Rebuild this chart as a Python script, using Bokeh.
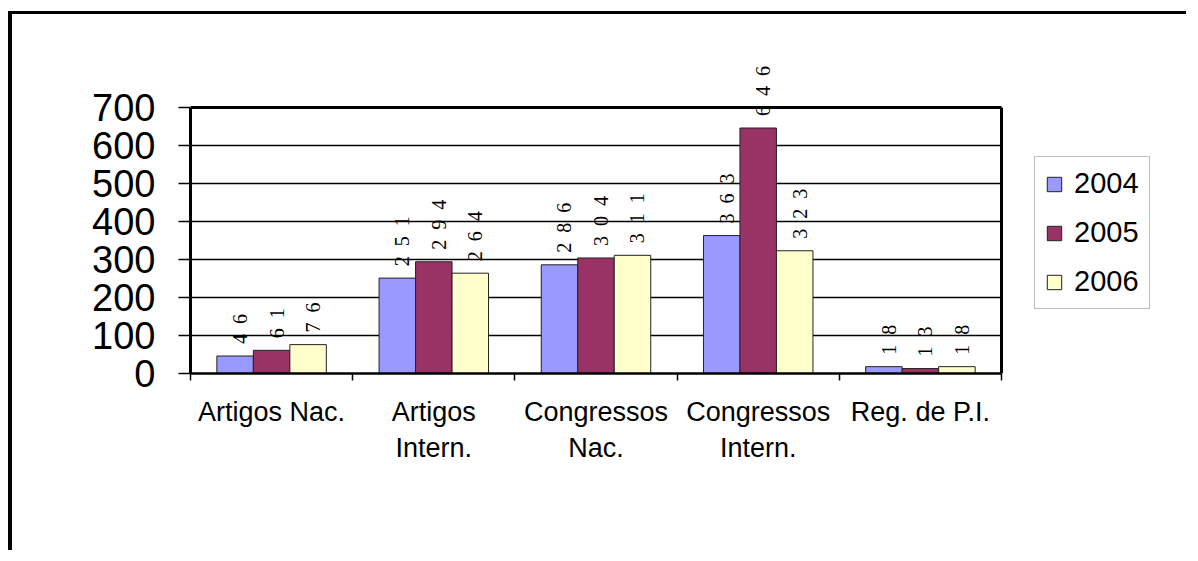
import math
from bokeh.plotting import figure
from bokeh.models import (ColumnDataSource, Range1d, FixedTicker, LabelSet,
                          Legend, LegendItem)
from bokeh.embed import file_html
from bokeh.resources import INLINE

categories = ["Artigos Nac.", "Artigos\nIntern.", "Congressos\nNac.",
              "Congressos\nIntern.", "Reg. de P.I."]
years = ["2004", "2005", "2006"]
v2004 = [46, 251, 286, 363, 18]
v2005 = [61, 294, 304, 646, 13]
v2006 = [76, 264, 311, 323, 18]
y_ticks = [0, 100, 200, 300, 400, 500, 600, 700]
colors = ["#9999FF", "#993366", "#FFFFCC"]

FONT = "Liberation Sans"
N = len(categories)
YMAX = y_ticks[-1]

# plot area: 811 x 266 px; the frame is larger (room for labels and legend)
FW, FH = 990, 323
p = figure(width=1178, height=539, output_backend="svg", toolbar_location=None,
           x_range=Range1d(0, N * FW / 811), y_range=Range1d(0, YMAX * FH / 266),
           min_border_left=178, min_border_right=1178 - 178 - FW,
           min_border_top=36, min_border_bottom=539 - 36 - FH)
p.styles = {"margin-left": "8px", "margin-top": "11px",
            "border-left": "4px solid black", "border-top": "3px solid black"}
p.background_fill_color = "white"
p.border_fill_color = "white"
p.outline_line_color = None
p.xgrid.grid_line_color = None
p.ygrid.grid_line_color = None

# horizontal grid lines and plot-area border (top, right)
grid_src = ColumnDataSource(dict(y=y_ticks[1:-1]))
p.segment(x0=0, y0="y", x1=N, y1="y", source=grid_src,
          line_color="black", line_width=1.5)
p.segment(x0=[0], y0=[YMAX], x1=[N], y1=[YMAX], line_color="black",
          line_width=3)
p.segment(x0=[N], y0=[0], x1=[N], y1=[YMAX], line_color="black", line_width=3)

bar_w = 0.225
offsets = [-bar_w, 0.0, bar_w]
series = [v2004, v2005, v2006]
renderers = []
for k, vals in enumerate(series):
    xs = [i + 0.5 + offsets[k] for i in range(N)]
    src = ColumnDataSource(dict(x=xs, top=vals,
                                txt=["\u2002".join(str(v)) for v in vals]))
    r = p.vbar(x="x", top="top", bottom=0, width=bar_w, source=src,
               fill_color=colors[k], line_color="#222222", line_width=1)
    renderers.append(r)
    labels = LabelSet(x="x", y="top", text="txt", source=src,
                      angle=math.pi / 2, text_align="left",
                      text_baseline="middle", x_offset=5, y_offset=12,
                      text_font=FONT, text_font_size="20px",
                      text_color="black")
    p.add_layout(labels)

# axes
p.yaxis.ticker = FixedTicker(ticks=y_ticks)
p.yaxis.bounds = (0, YMAX)
p.yaxis.axis_line_width = 3
p.yaxis.axis_line_color = "black"
p.yaxis.major_tick_out = 12
p.yaxis.major_tick_in = 0
p.yaxis.major_tick_line_width = 1.5
p.yaxis.minor_tick_line_color = None
p.yaxis.major_label_standoff = 23
p.yaxis.major_label_text_font = FONT
p.yaxis.major_label_text_font_size = "38px"
p.yaxis.major_label_text_color = "black"

centers = [i + 0.5 for i in range(N)]
bounds = [float(i) for i in range(N + 1)]
p.xaxis.ticker = FixedTicker(ticks=centers, minor_ticks=bounds)
p.xaxis.bounds = (0, N)
p.xaxis.major_label_overrides = {c: lab for c, lab in zip(centers, categories)}
p.xaxis.axis_line_width = 2.5
p.xaxis.axis_line_color = "black"
p.xaxis.major_tick_line_color = None
p.xaxis.minor_tick_out = 7
p.xaxis.minor_tick_in = 0
p.xaxis.minor_tick_line_color = "black"
p.xaxis.minor_tick_line_width = 1.5
p.xaxis.major_label_standoff = 16
p.xaxis.major_label_text_font = FONT
p.xaxis.major_label_text_font_size = "27px"
p.xaxis.major_label_text_color = "black"

legend = Legend(items=[LegendItem(label=y, renderers=[r])
                       for y, r in zip(years, renderers)],
                location=(844, 64), orientation="vertical",
                label_text_font=FONT, label_text_font_size="29px",
                label_text_color="black",
                glyph_width=18, glyph_height=18, spacing=16, padding=10,
                label_standoff=11, border_line_color="#808080",
                border_line_width=1, background_fill_color="white",
                background_fill_alpha=1.0, margin=0)
p.add_layout(legend)

open("out.html", "w").write(file_html(p, INLINE))
